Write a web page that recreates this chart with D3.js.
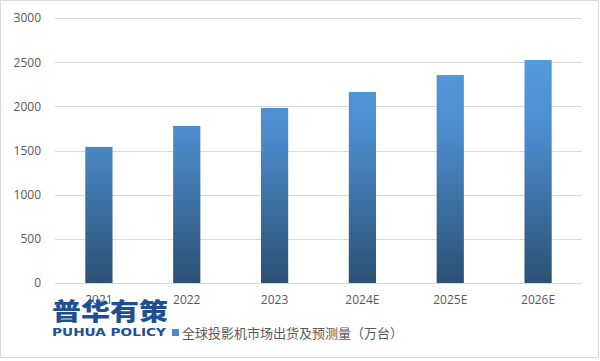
<!DOCTYPE html>
<html><head><meta charset="utf-8">
<script src="https://cdn.jsdelivr.net/npm/d3@7"></script>
<style>
html,body{margin:0;padding:0;background:#fff;}
svg{display:block;}
</style></head>
<body>
<svg id="chart" width="600" height="361"></svg>
<script>
const categories = ["2021","2022","2023","2024E","2025E","2026E"];
const values = [1541,1778,1982,2163,2355,2525];
const yTicks = [0,500,1000,1500,2000,2500,3000];
const seriesName = "全球投影机市场出货及预测量（万台）";

const svg = d3.select("#chart");
const W = 600, H = 361;
const m = {left:55, right:18, top:18, bottom:78};

svg.append("rect").attr("x",0.5).attr("y",0.5).attr("width",W-2).attr("height",H-4)
  .attr("fill","#fff").attr("stroke","#d9d9d9").attr("stroke-width",1);

const x = d3.scaleBand().domain(categories).range([m.left, W-m.right]).paddingInner(0.69).paddingOuter(0.345);
const y = d3.scaleLinear().domain([0,3000]).range([H-m.bottom, m.top]);

const defs = svg.append("defs");
const grad = defs.append("linearGradient").attr("id","barGrad")
  .attr("gradientUnits","userSpaceOnUse")
  .attr("x1",0).attr("x2",0).attr("y1", y(3000)).attr("y2", y(0));
grad.append("stop").attr("offset","0%").attr("stop-color","#5ba3e8");
grad.append("stop").attr("offset","45%").attr("stop-color","#4a8bcb");
grad.append("stop").attr("offset","100%").attr("stop-color","#2c5073");

// grid
svg.append("g").selectAll("line").data(yTicks.filter(d=>d>0)).join("line")
  .attr("x1",m.left).attr("x2",W-m.right)
  .attr("y1",d=>Math.round(y(d))+0.5).attr("y2",d=>Math.round(y(d))+0.5)
  .attr("stroke","#d9d9d9").attr("stroke-width",1);

// bars
svg.append("g").selectAll("rect").data(values).join("rect")
  .attr("x",(d,i)=>x(categories[i]))
  .attr("width",x.bandwidth())
  .attr("y",d=>y(d))
  .attr("height",d=>y(0)-y(d))
  .attr("fill","url(#barGrad)");

// x axis line
svg.append("line").attr("x1",m.left).attr("x2",W-m.right)
  .attr("y1",Math.round(y(0))+0.5).attr("y2",Math.round(y(0))+0.5)
  .attr("stroke","#d9d9d9");

const font = "'Open Sans','Noto Sans CJK SC',sans-serif";
const cjk = "'Noto Sans CJK SC',sans-serif";
// y axis
const yAxis = d3.axisLeft(y).tickValues(yTicks).tickFormat(d3.format("d")).tickSize(0).tickPadding(14);
const gy = svg.append("g").attr("transform",`translate(${m.left},0)`).call(yAxis);
gy.select(".domain").remove();
gy.selectAll("text").attr("fill","#595959").style("font-family",font).style("font-size","12px");

// x axis
const xAxis = d3.axisBottom(x).tickSize(0).tickPadding(12);
const gx = svg.append("g").attr("transform",`translate(0,${y(0)})`).call(xAxis);
gx.select(".domain").remove();
gx.selectAll("text").attr("fill","#595959").style("font-family",font).style("font-size","12px");

// legend
const lg = svg.append("g").attr("transform","translate(172,329)");
lg.append("rect").attr("x",0).attr("y",0).attr("width",7).attr("height",7).attr("fill","#4a8bcb");
lg.append("text").attr("x",10).attr("y",8.5).text(seriesName)
  .attr("fill","#595959").style("font-family",cjk).style("font-size","13px");

// watermark logo
svg.append("text").attr("x",52).attr("y",320).text("普华有策")
  .attr("fill","#1d4f91").style("font-family",cjk).style("font-size","24px").style("font-weight","900")
  .attr("textLength",116).attr("lengthAdjust","spacingAndGlyphs");
svg.append("text").attr("x",52).attr("y",336).text("PUHUA POLICY")
  .attr("fill","#1d4f91").style("font-family","'DejaVu Sans',sans-serif").style("font-size","10.5px").style("font-weight","bold")
  .attr("textLength",114).attr("lengthAdjust","spacingAndGlyphs");
</script>
</body></html>
